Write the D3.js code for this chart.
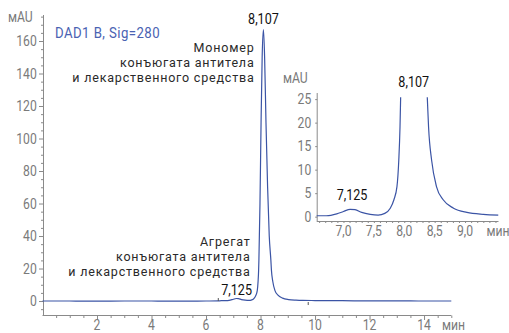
<!DOCTYPE html>
<html>
<head>
<meta charset="utf-8">
<script src="https://cdn.jsdelivr.net/npm/d3@7"></script>
<style>
  html, body { margin: 0; padding: 0; background: #fff; }
  svg { display: block; font-family: Roboto, "Noto Sans", sans-serif; }
  .tick-label { fill: #7a7a7a; font-size: 14.5px; }
  .note { fill: #2a2a2a; font-size: 12.5px; letter-spacing: 0.8px; }
  .peak { fill: #111; font-size: 15px; font-weight: 400; }
</style>
</head>
<body>
<svg id="chart" width="509" height="333"></svg>
<script>
// Chromatogram, DAD1 B, Sig=280: retention time (min) vs absorbance (mAU)
const times = [0, 1, 2, 3, 4, 5, 6, 6.45, 6.56, 6.72, 6.89, 7.0, 7.11, 7.19, 7.3, 7.44, 7.57, 7.68, 7.77, 7.83, 7.88, 7.91, 7.93, 7.94, 7.98, 8.02, 8.06, 8.107, 8.15, 8.2, 8.26, 8.32, 8.38, 8.4, 8.45, 8.53, 8.64, 8.81, 9.03, 9.3, 9.55, 10, 11, 12, 13, 14, 15];
const signal = [0.0, 0.0, -0.1, 0.0, 0.0, -0.1, 0.0, 0.1, 0.2, 0.2, 0.6, 1.1, 1.55, 1.5, 0.9, 0.5, 0.35, 0.7, 1.8, 3.6, 6.4, 12, 19, 25, 60, 110, 150, 167, 150, 110, 70, 40, 25, 19, 12, 6.4, 3.6, 1.8, 0.9, 0.5, 0.35, 0.3, 0.2, 0.1, 0.1, 0.0, 0.0];

// Labelled peaks
const peakTimes = [7.125, 8.107];
const peakLabels = ["7,125", "8,107"];

// Axis ticks
const mainXTicks = [2, 4, 6, 8, 10, 12, 14];
const mainYTicks = [0, 20, 40, 60, 80, 100, 120, 140, 160];
const insetXTicks = [7.0, 7.5, 8.0, 8.5, 9.0];
const insetYTicks = [0, 5, 10, 15, 20, 25];

// Integration event marks on the baseline
const eventTimes = [6.45, 9.75];

const monomerNote = ["Мономер", "конъюгата антитела", "и лекарственного средства"];
const aggregateNote = ["Агрегат", "конъюгата антитела", "и лекарственного средства"];

const lineColor = "#3b54a5";
const axisColor = "#8a8a8a";
const narrow = 0.84;   // horizontal squeeze giving the condensed label look
const fmt = d3.format(".1f");
const comma = s => String(s).replace(".", ",");

const svg = d3.select("#chart");
const points = times.map((t, i) => ({ t, v: signal[i] }));

// place a text at (px, py) with condensed glyphs
function at(sel, px, py, sx = narrow) {
  return sel.attr("transform", (d, i) => {
    const X = typeof px === "function" ? px(d, i) : px;
    const Y = typeof py === "function" ? py(d, i) : py;
    return `translate(${X},${Y}) scale(${sx},1)`;
  });
}

// ---------- main panel ----------
const x = d3.scaleLinear().domain([0, 15]).range([42.5, 451.3]);
const y = d3.scaleLinear().domain([-8.6, 176]).range([315, 15]);

const gx = svg.append("g").attr("transform", "translate(0,315.5)");
gx.call(d3.axisBottom(x).tickValues(d3.range(0.5, 15.01, 0.5)).tickSize(2.5).tickFormat(""));
gx.call(g => g.selectAll(".tick").filter(d => mainXTicks.includes(d)).select("line").attr("y2", 4.5));
gx.select(".domain").attr("d", `M${x(0)},0H${x(15)}`);
gx.selectAll("line, path").attr("stroke", axisColor);

const gy = svg.append("g").attr("transform", "translate(43.5,0)");
gy.call(d3.axisLeft(y).tickValues(d3.range(-5, 176, 5)).tickSize(2.5).tickFormat(""));
gy.call(g => g.selectAll(".tick").filter(d => mainYTicks.includes(d)).select("line").attr("x2", -4.5));
gy.select(".domain").attr("d", `M0,${y(176)}V${y(-8.6)}`);
gy.selectAll("line, path").attr("stroke", axisColor);

const labels = svg.append("g");
at(labels.selectAll(null).data(mainXTicks).join("text")
  .attr("class", "tick-label").attr("text-anchor", "middle").text(d => d),
  d => x(d), 329.8);
at(labels.selectAll(null).data(mainYTicks).join("text")
  .attr("class", "tick-label").attr("text-anchor", "end").text(d => d),
  36.8, d => y(d) + 5.2);

at(svg.append("text").attr("class", "tick-label").text("мAU"), 8, 21.5);
at(svg.append("text").attr("class", "tick-label").text("мин"), 442, 329.8);

at(svg.append("text").attr("fill", "#4a62b2").attr("font-size", 15).attr("letter-spacing", 0.5)
  .text("DAD1 B, Sig=280"), 55, 37.8, 0.88);

const line = d3.line().x(d => x(d.t)).y(d => y(d.v)).curve(d3.curveMonotoneX);
svg.append("path").datum(points).attr("d", line)
  .attr("fill", "none").attr("stroke", lineColor).attr("stroke-width", 1.2);

svg.selectAll(null).data(eventTimes).join("line")
  .attr("x1", d => x(d)).attr("x2", d => x(d))
  .attr("y1", (d, i) => i === 0 ? y(0) - 3 : y(0) + 1)
  .attr("y2", (d, i) => i === 0 ? y(0) : y(0) + 4)
  .attr("stroke", "#555").attr("stroke-width", 1);

// peak labels
at(svg.append("text").attr("class", "peak").attr("text-anchor", "middle").text(peakLabels[1]),
  x(peakTimes[1]), 24);
at(svg.append("text").attr("class", "peak").attr("text-anchor", "end").text(peakLabels[0]),
  252, 294.5);

svg.selectAll(null).data(monomerNote).join("text")
  .attr("class", "note").attr("text-anchor", "end")
  .attr("x", 254.5).attr("y", (d, i) => 52 + i * 15).text(d => d);
svg.selectAll(null).data(aggregateNote).join("text")
  .attr("class", "note").attr("text-anchor", "end")
  .attr("x", 250.5).attr("y", (d, i) => 245.5 + i * 15.3).text(d => d);

// ---------- inset zoom panel ----------
const xi = d3.scaleLinear().domain([6.56, 9.55]).range([316.7, 498.5]);
const yi = d3.scaleLinear().domain([-0.92, 26.3]).range([221, 93]);

svg.append("clipPath").attr("id", "insetClip").append("rect")
  .attr("x", xi(6.56)).attr("y", yi(25.4)).attr("width", xi(9.55) - xi(6.56)).attr("height", yi(-0.92) - yi(25.4));

const ix = svg.append("g").attr("transform", "translate(0,221.5)");
ix.call(d3.axisBottom(xi).tickValues(d3.range(6.6, 9.55, 0.1)).tickSize(1.5).tickFormat(""));
ix.select(".domain").attr("d", `M${xi(6.56)},0H${xi(9.55)}`);
ix.selectAll("line, path").attr("stroke", axisColor);

const iy = svg.append("g").attr("transform", "translate(317.2,0)");
iy.call(d3.axisLeft(yi).tickValues(insetYTicks).tickSize(2).tickFormat(""));
iy.select(".domain").attr("d", `M0,${yi(26.3)}V${yi(-0.92)}`);
iy.selectAll("line, path").attr("stroke", axisColor);

at(labels.selectAll(null).data(insetXTicks).join("text")
  .attr("class", "tick-label").attr("text-anchor", "middle").text(d => comma(fmt(d))),
  d => xi(d), 236.3);
at(labels.selectAll(null).data(insetYTicks).join("text")
  .attr("class", "tick-label").attr("text-anchor", "end").text(d => d),
  311.3, d => yi(d) + 5.2);

at(svg.append("text").attr("class", "tick-label").text("мAU"), 283, 83.3);
at(svg.append("text").attr("class", "tick-label").text("мин"), 486.5, 236.3);

const iline = d3.line().x(d => xi(d.t)).y(d => yi(d.v)).curve(d3.curveMonotoneX);
svg.append("path").datum(points.filter(p => p.t >= 6.4 && p.t <= 9.6))
  .attr("d", iline).attr("clip-path", "url(#insetClip)")
  .attr("fill", "none").attr("stroke", lineColor).attr("stroke-width", 1.2);

at(svg.append("text").attr("class", "peak").attr("text-anchor", "middle").text(peakLabels[1]),
  xi(peakTimes[1]) + 3, 87);
at(svg.append("text").attr("class", "peak").attr("text-anchor", "middle").text(peakLabels[0]),
  xi(peakTimes[0]) + 1, 200);
</script>
</body>
</html>
